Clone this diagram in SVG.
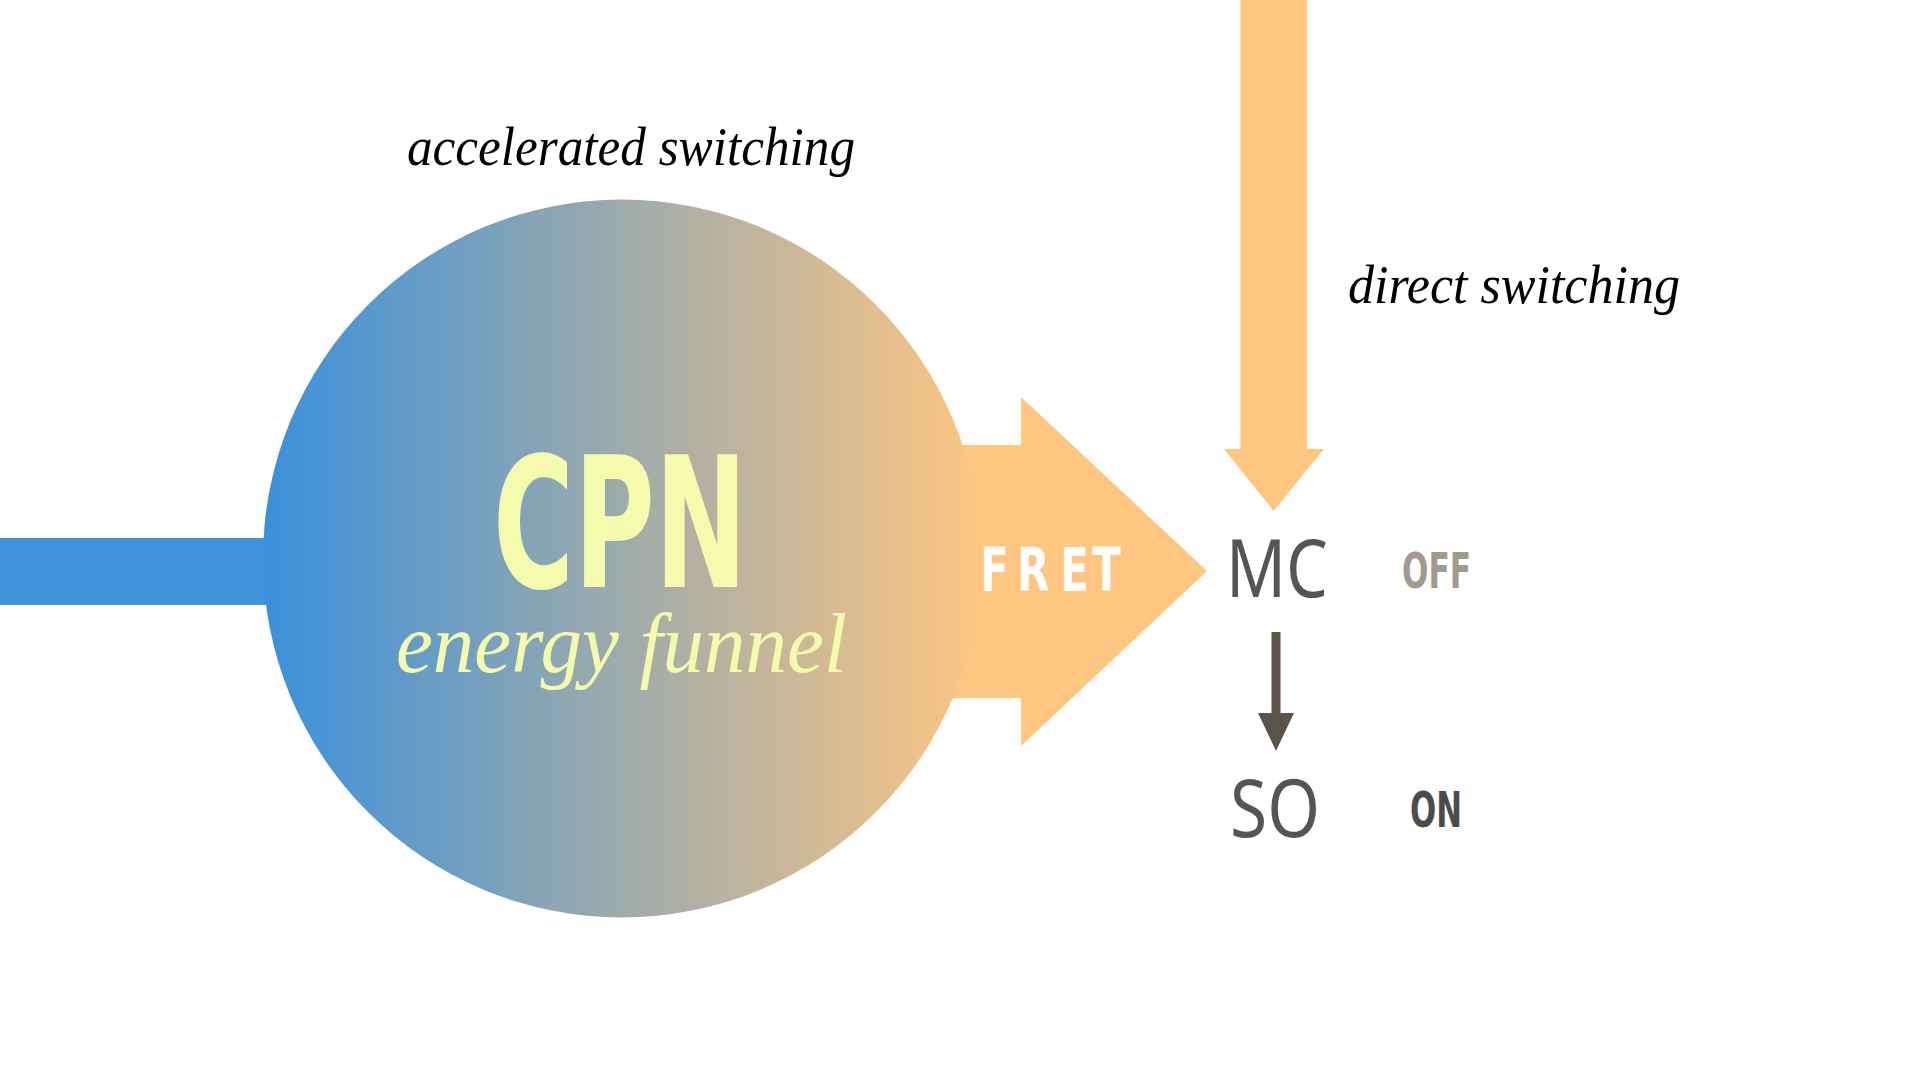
<svg xmlns="http://www.w3.org/2000/svg" width="1920" height="1080" viewBox="0 0 1920 1080">
  <defs>
    <linearGradient id="cpnGrad" x1="0" y1="0" x2="1" y2="0">
      <stop offset="0" stop-color="#3a90dc"/>
      <stop offset="0.5" stop-color="#9eabab"/>
      <stop offset="1" stop-color="#fdc682"/>
    </linearGradient>
    <style>
      .flow { fill: #fec681; }
      .blue { fill: #3f93d9; }
      .dark { fill: #5b5549; }
      .serif { font-family: "Liberation Serif", "DejaVu Serif", serif; font-style: italic; }
      .sans { font-family: "Noto Sans", "Open Sans", "Liberation Sans", sans-serif; }
      .cond { font-family: "Liberation Sans Narrow", "DejaVu Sans Condensed", "Noto Sans", sans-serif; font-weight: bold; }
      .state { fill: #555555; font-size: 80px; }
    </style>
  </defs>
  <rect width="1920" height="1080" fill="#ffffff"/>

  <g id="connectors">
    <rect id="input-bar" class="blue" x="0" y="538" width="300" height="67"/>
    <polygon id="fret-arrow" class="flow" points="900,445 1021,445 1021,397 1207,571 1021,746 1021,698 900,698"/>
    <polygon id="direct-arrow" class="flow" points="1240.5,0 1307,0 1307,449 1324,449 1273.5,511 1224,449 1240.5,449"/>
    <polygon id="mc-so-arrow" class="dark" points="1271.5,632 1280.5,632 1280.5,713 1294,713 1276,751 1258,713 1271.5,713"/>
  </g>

  <g id="node-cpn">
    <circle cx="622" cy="558.5" r="359" fill="url(#cpnGrad)"/>
    <text class="cond" x="493" y="587" font-size="182" fill="#f4fbad" textLength="254" lengthAdjust="spacingAndGlyphs">CPN</text>
    <text class="serif" x="396" y="672" font-size="85" fill="#f4fbad" textLength="451" lengthAdjust="spacingAndGlyphs">energy funnel</text>
  </g>

  <g id="label-fret">
    <text class="cond" transform="translate(980 591) scale(0.78 1)" x="0 47.4 102.6 143.6" y="0" font-size="60" fill="#ffffff">FRET</text>
  </g>

  <g id="label-accelerated">
    <text class="serif" x="407" y="165" font-size="54" fill="#000000" textLength="448" lengthAdjust="spacingAndGlyphs">accelerated switching</text>
  </g>

  <g id="label-direct">
    <text class="serif" x="1348" y="303" font-size="54" fill="#000000" textLength="332" lengthAdjust="spacingAndGlyphs">direct switching</text>
  </g>

  <g id="node-mc">
    <text class="sans state" x="1226" y="597" textLength="102" lengthAdjust="spacingAndGlyphs">MC</text>
    <text class="cond" x="1402" y="588" font-size="50" fill="#a29a8f" textLength="69" lengthAdjust="spacingAndGlyphs">OFF</text>
  </g>

  <g id="node-so">
    <text class="sans state" x="1230" y="837" textLength="90" lengthAdjust="spacingAndGlyphs">SO</text>
    <text class="cond" x="1410" y="827" font-size="49" fill="#4b4b4b" textLength="52" lengthAdjust="spacingAndGlyphs">ON</text>
  </g>
</svg>
